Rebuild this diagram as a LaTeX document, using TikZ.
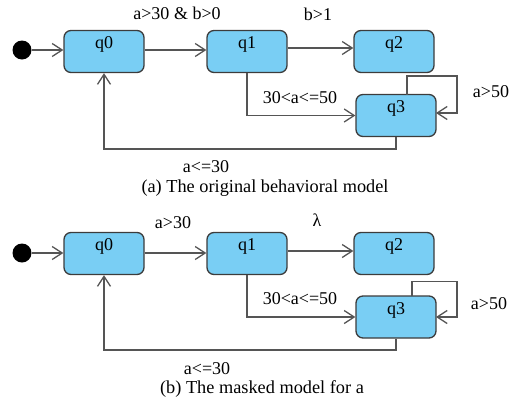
\documentclass[tikz,border=0pt]{standalone}
\usepackage{fontspec}
\setmainfont{Liberation Serif}
\usetikzlibrary{arrows.meta}
\definecolor{statefill}{HTML}{79CEF4}
\definecolor{stateline}{HTML}{3C3C3C}
\definecolor{edgecol}{HTML}{555555}
\begin{document}
\begin{tikzpicture}[x=1pt,y=-1pt,
  state/.style={draw=stateline,fill=statefill,line width=1.3pt,rounded corners=7pt,
    minimum width=80pt,minimum height=42pt,inner sep=0pt,
    text height=12pt,text depth=18pt,font=\fontsize{18}{21}\selectfont},
  initdot/.style={circle,fill=black,minimum size=19pt,inner sep=0pt},
  trans/.style={draw=edgecol,line width=1.3pt,-{Straight Barb[length=10pt,width=13pt]}},
  lbl/.style={font=\fontsize{18}{21}\selectfont,inner sep=0pt},
  captext/.style={font=\fontsize{18.3}{21}\selectfont,inner sep=0pt}]
\useasboundingbox (0,0) rectangle (516,402);
% ---------- (a) ----------
\node[initdot] (ia) at (22,50) {};
\node[state] (a0) at (104,51.5) {q0};
\node[state] (a1) at (247,51.5) {q1};
\node[state] (a2) at (394,51.5) {q2};
\node[state] (a3) at (396,115.5) {q3};
\draw[trans] (ia) -- (a0.west |- ia);
\draw[trans] (a0.east |- 0,50) -- (a1.west |- 0,50);
\draw[trans] (a1.east |- 0,48) -- (a2.west |- 0,48);
\draw[trans] (a1.south) |- (a3.west);
\coordinate (a3s) at (407,94.5);
\coordinate (a3e) at (436,113);
\draw[trans] (a3s) |- (457,76) |- (a3e);
\draw[trans] (a3.south) -- (396,149) -| (a0.south);
\node[lbl] (la01) at (177,13) {a>30 \& b>0};
\node[lbl] (la12) at (318,14) {b>1};
\node[lbl] (la13) at (300,98) {30<a<=50};
\node[lbl] (la33) at (491,92) {a>50};
\node[lbl] (la30) at (206,167) {a<=30};
\node[captext] (capa) at (265,188) {(a) The original behavioral model};
% ---------- (b) ----------
\node[initdot] (ib) at (22,253) {};
\node[state] (b0) at (104,253.5) {q0};
\node[state] (b1) at (247,253.5) {q1};
\node[state] (b2) at (394,253.5) {q2};
\node[state] (b3) at (396,317) {q3};
\draw[trans] (ib) -- (b0.west |- ib);
\draw[trans] (b0.east |- 0,253) -- (b1.west |- 0,253);
\draw[trans] (b1.east |- 0,251) -- (b2.west |- 0,251);
\draw[trans] (b1.south) |- (b3.west);
\coordinate (b3s) at (412,296);
\coordinate (b3e) at (436,317);
\draw[trans] (b3s) |- (457,281.5) |- (b3e);
\draw[trans] (b3.south) -- (396,350) -| (b0.south);
\node[lbl] (lb01) at (173,223) {a>30};
\node[lbl] (lb12) at (317,220) {λ};
\node[lbl] (lb13) at (300,299) {30<a<=50};
\node[lbl] (lb33) at (489,304) {a>50};
\node[lbl] (lb30) at (207,369) {a<=30};
\node[captext] (capb) at (262,389) {(b) The masked model for a};
\end{tikzpicture}
\end{document}
